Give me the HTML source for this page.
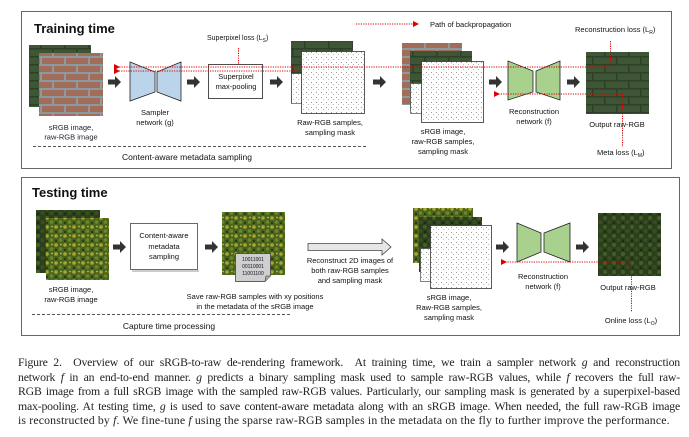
<!DOCTYPE html>
<html><head><meta charset="utf-8"><style>
body{margin:0;background:#fff;width:689px;height:437px;overflow:hidden;position:relative;font-family:"Liberation Sans",sans-serif}
svg{position:absolute;left:0;top:0}
.cap{position:absolute;left:18px;top:355px;width:662px;font-family:"Liberation Serif",serif;font-size:11.8px;letter-spacing:-0.2px;line-height:14.6px;color:#222}
.cap div{white-space:nowrap;text-align:justify;text-align-last:justify}
.cap div.l{text-align-last:left;letter-spacing:0.15px}
</style></head><body>
<svg width="689" height="437" viewBox="0 0 689 437" font-family="Liberation Sans, sans-serif">
<defs>
<pattern id="dots" width="5" height="5" patternUnits="userSpaceOnUse"><rect width="5" height="5" fill="#fff"/><rect x="1" y="2" width="1" height="1" fill="#999"/><rect x="3" y="4" width="1" height="1" fill="#bbb"/></pattern>
<pattern id="brick" width="24" height="16" patternUnits="userSpaceOnUse"><rect width="24" height="16" fill="#a26c58"/><rect y="0" width="24" height="2" fill="#8a9aa0"/><rect y="8" width="24" height="2" fill="#8a9aa0"/><rect x="4" y="0" width="2" height="8" fill="#8a9aa0"/><rect x="16" y="8" width="2" height="8" fill="#8a9aa0"/></pattern>
<pattern id="gbrick" width="24" height="16" patternUnits="userSpaceOnUse"><rect width="24" height="16" fill="#3e5536"/><rect y="0" width="24" height="1.5" fill="#2e4028"/><rect y="8" width="24" height="1.5" fill="#2e4028"/><rect x="4" y="0" width="1.5" height="8" fill="#2e4028"/><rect x="16" y="8" width="1.5" height="8" fill="#2e4028"/></pattern>
<pattern id="leaf" width="9" height="9" patternUnits="userSpaceOnUse"><rect width="9" height="9" fill="#4a6420"/><circle cx="2" cy="2" r="1.8" fill="#a8a830"/><circle cx="6.5" cy="6" r="1.8" fill="#6a8a2a"/><circle cx="7" cy="1.5" r="0.9" fill="#c8c040"/><circle cx="2" cy="7" r="1.2" fill="#2a3a14"/></pattern>
<pattern id="dleaf" width="9" height="9" patternUnits="userSpaceOnUse"><rect width="9" height="9" fill="#2c3f1c"/><circle cx="2" cy="2" r="2" fill="#445e28"/><circle cx="6.5" cy="6" r="2" fill="#384e22"/><circle cx="2" cy="7" r="1.2" fill="#1c2a12"/></pattern>
<marker id="ah" markerWidth="6" markerHeight="6" refX="1" refY="3" orient="auto"><path d="M6,0 L0,3 L6,6z" fill="#d00"/></marker>
<marker id="ahr" markerWidth="6" markerHeight="6" refX="5" refY="3" orient="auto"><path d="M0,0 L6,3 L0,6z" fill="#d00"/></marker>
<g id="arr"><path d="M0,-2.5 H7 V-6 L13,0 L7,6 V2.5 H0z" fill="#333"/></g>
</defs>

<rect x="21.5" y="11.5" width="650" height="157" fill="#fff" stroke="#666" stroke-width="1"/>
<text x="34" y="33" font-size="13" font-weight="bold" fill="#111">Training time</text>

<rect x="29" y="45" width="62" height="62" fill="url(#gbrick)"/>
<rect x="39" y="53" width="64" height="63" fill="url(#brick)"/>
<text font-size="7.5" text-anchor="middle" fill="#223"><tspan x="71" y="130">sRGB image,</tspan><tspan x="71" y="139.5">raw-RGB image</tspan></text>
<use href="#arr" x="108" y="82"/>
<path d="M130,62 L155,72 V92 L130,101z M157,72 L181,62 V101 L157,92z" fill="#bcd4ea" stroke="#222" stroke-width="0.8"/>
<text font-size="7.5" text-anchor="middle" fill="#111"><tspan x="155" y="115">Sampler</tspan><tspan x="155" y="125">network (g)</tspan></text>
<use href="#arr" x="187" y="82"/>
<rect x="208.5" y="64.5" width="54" height="34" fill="#fff" stroke="#222" stroke-width="0.8"/>
<text font-size="7.5" text-anchor="middle" fill="#111"><tspan x="236" y="79">Superpixel</tspan><tspan x="236" y="89">max-pooling</tspan></text>
<text x="207" y="40" font-size="7" fill="#111">Superpixel loss (L<tspan font-size="5" dy="2">S</tspan><tspan dy="-2">)</tspan></text>
<line x1="238.5" y1="48" x2="238.5" y2="65" stroke="#d00" stroke-dasharray="1.2,1.2"/>
<use href="#arr" x="270" y="82"/>
<rect x="291" y="41" width="62" height="62" fill="url(#gbrick)"/>
<rect x="291.5" y="73.5" width="14" height="30" fill="url(#dots)" stroke="#333" stroke-width="0.6"/>
<rect x="301.5" y="51.5" width="63" height="62" fill="url(#dots)" stroke="#333" stroke-width="0.8"/>
<text font-size="7.5" text-anchor="middle" fill="#111"><tspan x="330" y="125">Raw-RGB samples,</tspan><tspan x="330" y="135">sampling mask</tspan></text>
<use href="#arr" x="373" y="82"/>
<rect x="402" y="43" width="60" height="62" fill="url(#brick)"/>
<rect x="410" y="51" width="62" height="60" fill="url(#gbrick)"/>
<rect x="410.5" y="83.5" width="14" height="30" fill="url(#dots)" stroke="#333" stroke-width="0.6"/>
<rect x="421.5" y="61.5" width="62" height="61" fill="url(#dots)" stroke="#333" stroke-width="0.8"/>
<text font-size="7.5" text-anchor="middle" fill="#111"><tspan x="443" y="134">sRGB image,</tspan><tspan x="443" y="144">raw-RGB samples,</tspan><tspan x="443" y="154">sampling mask</tspan></text>
<use href="#arr" x="489" y="82"/>
<path d="M508,61 L533,71 V92 L508,100z M536,71 L560,61 V100 L536,92z" fill="#a9d18e" stroke="#222" stroke-width="0.8"/>
<text font-size="7.5" text-anchor="middle" fill="#111"><tspan x="534" y="114">Reconstruction</tspan><tspan x="534" y="124">network (f)</tspan></text>
<use href="#arr" x="567" y="82"/>
<rect x="586" y="52" width="63" height="62" fill="url(#gbrick)"/>
<text x="617" y="127" font-size="7.5" text-anchor="middle" fill="#111">Output raw-RGB</text>
<text x="575" y="32" font-size="7.5" fill="#111">Reconstruction loss (L<tspan font-size="5" dy="2">R</tspan><tspan dy="-2">)</tspan></text>
<text x="597" y="155" font-size="7.5" fill="#111">Meta loss (L<tspan font-size="5" dy="2">M</tspan><tspan dy="-2">)</tspan></text>
<line x1="610.5" y1="41" x2="610.5" y2="67" stroke="#d00" stroke-dasharray="1.2,1.2"/>
<line x1="610" y1="67" x2="119" y2="67" stroke="#d00" stroke-dasharray="1.2,1.2" marker-end="url(#ah)"/>
<line x1="300" y1="71" x2="119" y2="71" stroke="#d00" stroke-dasharray="1.2,1.2" marker-end="url(#ah)"/>
<line x1="622.5" y1="94" x2="622.5" y2="147" stroke="#d00" stroke-dasharray="1.2,1.2"/>
<line x1="622" y1="94" x2="499" y2="94" stroke="#d00" stroke-dasharray="1.2,1.2" marker-end="url(#ah)"/>
<line x1="356" y1="24" x2="418" y2="24" stroke="#d00" stroke-dasharray="1.2,1.2" marker-end="url(#ahr)"/>
<text x="430" y="27" font-size="7.5" fill="#111">Path of backpropagation</text>
<line x1="33" y1="146.5" x2="367" y2="146.5" stroke="#555" stroke-dasharray="3,2"/>
<text x="187" y="160" font-size="8.5" text-anchor="middle" fill="#111">Content-aware metadata sampling</text>

<rect x="21.5" y="177.5" width="658" height="158" fill="#fff" stroke="#666" stroke-width="1"/>
<text x="32" y="197" font-size="13" font-weight="bold" fill="#111">Testing time</text>
<rect x="36" y="210" width="64" height="63" fill="url(#dleaf)"/>
<rect x="46" y="218" width="63" height="62" fill="url(#leaf)"/>
<text font-size="7.5" text-anchor="middle" fill="#111"><tspan x="71" y="292">sRGB image,</tspan><tspan x="71" y="302">raw-RGB image</tspan></text>
<use href="#arr" x="113" y="247"/>
<rect x="130.5" y="223.5" width="67" height="46" fill="#fff" stroke="#444" stroke-width="0.8"/>
<rect x="132" y="270" width="67" height="2" fill="#ccc"/>
<text font-size="7.5" text-anchor="middle" fill="#111"><tspan x="164" y="238">Content-aware</tspan><tspan x="164" y="249">metadata</tspan><tspan x="164" y="259">sampling</tspan></text>
<use href="#arr" x="205" y="247"/>
<rect x="222" y="212" width="63" height="63" fill="url(#leaf)"/>
<path d="M235.5,253.5 H270.5 V276 L265,281.5 H235.5z" fill="#cfcfcf" stroke="#333" stroke-width="0.7"/>
<path d="M265,281.5 L266,276 L270.5,276" fill="#aaa" stroke="#333" stroke-width="0.6"/>
<text font-size="5" text-anchor="middle" fill="#112"><tspan x="253" y="261">10011001</tspan><tspan x="253" y="268">00110001</tspan><tspan x="253" y="275">11001100</tspan></text>
<text font-size="7.5" text-anchor="middle" fill="#111"><tspan x="255" y="299">Save raw-RGB samples with xy positions</tspan><tspan x="255" y="309">in the metadata of the sRGB image</tspan></text>
<path d="M308,243.5 H382 V239 L391,247 L382,255 V250.5 H308z" fill="#e6e6e6" stroke="#444" stroke-width="0.8"/>
<text font-size="7.5" text-anchor="middle" fill="#111"><tspan x="350" y="263">Reconstruct 2D images of</tspan><tspan x="350" y="273">both raw-RGB samples</tspan><tspan x="350" y="283">and sampling mask</tspan></text>
<rect x="413" y="208" width="60" height="55" fill="url(#leaf)"/>
<rect x="419" y="217" width="63" height="55" fill="url(#dleaf)"/>
<rect x="420.5" y="248.5" width="14" height="33" fill="url(#dots)" stroke="#333" stroke-width="0.6"/>
<rect x="430.5" y="225.5" width="61" height="63" fill="url(#dots)" stroke="#333" stroke-width="0.8"/>
<text font-size="7.5" text-anchor="middle" fill="#111"><tspan x="449" y="300">sRGB image,</tspan><tspan x="449" y="310">Raw-RGB samples,</tspan><tspan x="449" y="320">sampling mask</tspan></text>
<use href="#arr" x="496" y="247"/>
<path d="M517,223 L541,233 V252 L517,262z M544,233 L570,223 V262 L544,252z" fill="#a9d18e" stroke="#222" stroke-width="0.8"/>
<text font-size="7.5" text-anchor="middle" fill="#111"><tspan x="543" y="279">Reconstruction</tspan><tspan x="543" y="289">network (f)</tspan></text>
<use href="#arr" x="576" y="247"/>
<rect x="598" y="213" width="63" height="63" fill="url(#dleaf)"/>
<text x="628" y="290" font-size="7.5" text-anchor="middle" fill="#111">Output raw-RGB</text>
<line x1="631.5" y1="262" x2="631.5" y2="312" stroke="#d00" stroke-dasharray="1.2,1.2"/>
<line x1="631" y1="262" x2="506" y2="262" stroke="#d00" stroke-dasharray="1.2,1.2" marker-end="url(#ah)"/>
<text x="631" y="323" font-size="7.5" text-anchor="middle" fill="#111">Online loss (L<tspan font-size="5" dy="2">O</tspan><tspan dy="-2">)</tspan></text>
<line x1="32" y1="314.5" x2="291" y2="314.5" stroke="#555" stroke-dasharray="3,2"/>
<text x="169" y="329" font-size="8.5" text-anchor="middle" fill="#111">Capture time processing</text>
</svg>
<div class="cap">
<div>Figure 2. &nbsp;Overview of our sRGB-to-raw de-rendering framework. &nbsp;At training time, we train a sampler network <i>g</i> and reconstruction</div>
<div>network <i>f</i> in an end-to-end manner. <i>g</i> predicts a binary sampling mask used to sample raw-RGB values, while <i>f</i> recovers the full raw-</div>
<div>RGB image from a full sRGB image with the sampled raw-RGB values. Particularly, our sampling mask is generated by a superpixel-based</div>
<div>max-pooling. At testing time, <i>g</i> is used to save content-aware metadata along with an sRGB image. When needed, the full raw-RGB image</div>
<div class="l">is reconstructed by <i>f</i>. We fine-tune <i>f</i> using the sparse raw-RGB samples in the metadata on the fly to further improve the performance.</div>
</div>
</body></html>
